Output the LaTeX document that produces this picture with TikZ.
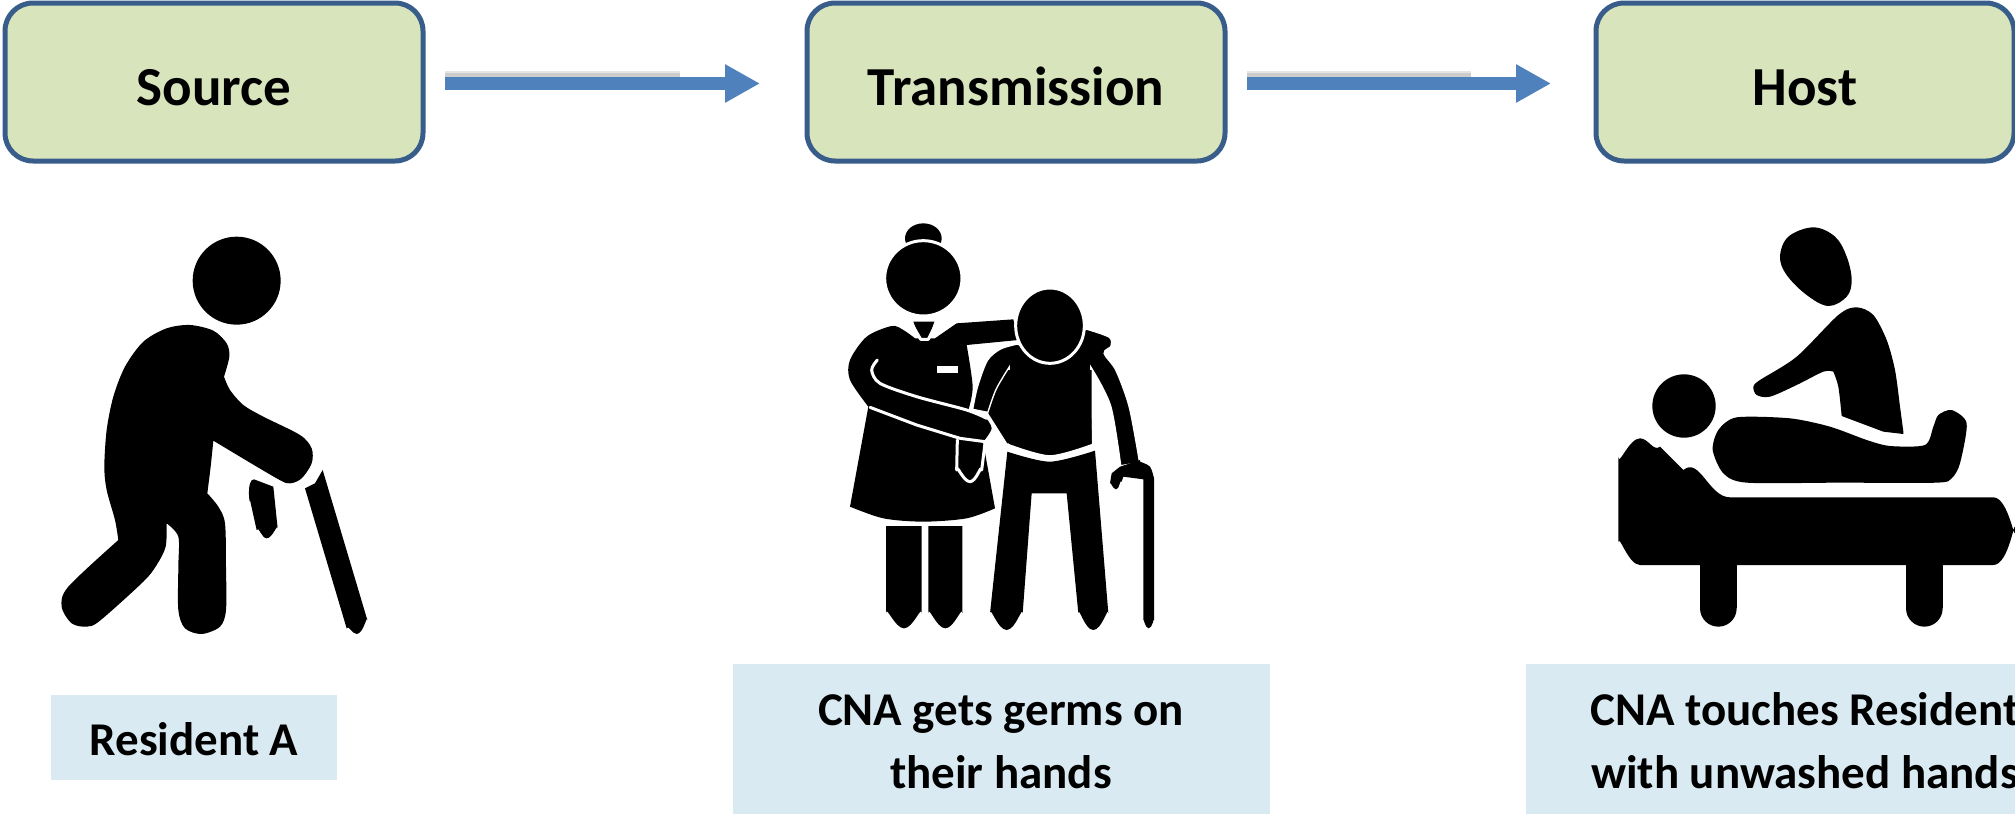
\documentclass[tikz,border=0pt]{standalone}
\usepackage{fontspec}
\setmainfont{Carlito}
\usetikzlibrary{arrows.meta}
\definecolor{boxgreen}{HTML}{D8E4BC}
\definecolor{boxline}{HTML}{385D8A}
\definecolor{arrowblue}{HTML}{4F81BD}
\definecolor{noteblue}{HTML}{DAEAF2}
\tikzset{
  stagebox/.style={draw=boxline,line width=5pt,fill=boxgreen,rounded corners=28pt,outer sep=0pt,inner sep=0pt,
    minimum width=#1,minimum height=158pt,font=\fontsize{55pt}{60pt}\selectfont\bfseries,text height=46pt,text depth=0pt},
  notebox/.style={fill=noteblue,outer sep=0pt,inner sep=0pt,anchor=north west,align=center},
  notetext/.style={inner sep=0pt,font=\fontsize{47pt}{63pt}\selectfont\bfseries,anchor=base},
  flow/.style={draw=arrowblue,line width=13pt,-{Triangle[length=35pt,width=36pt,fill=arrowblue]},shorten <=22pt,shorten >=47pt},
  flowshade/.style={draw=black,draw opacity=.10,line width=13pt,shorten <=22pt,shorten >=80pt},
  ink/.style={fill=black,draw=none},
  gap/.style={draw=white,line width=3pt,line cap=round,line join=round},
  limb/.style={draw=black,line width=#1,line cap=round},
}
\begin{document}
\begin{tikzpicture}[x=1pt,y=-1pt]
\useasboundingbox (0,0) rectangle (2015,814);
\clip (0,0) rectangle (2015,814);
\fill[white] (0,0) rectangle (2015,814);
% stage boxes
\node[stagebox=418pt] (src) at (214,82) {Source};
\node[stagebox=418pt] (trm) at (1016,82) {Transmission};
\node[stagebox=418pt] (hst) at (1805,82) {Host};
% arrows
\draw[flowshade] ([yshift=5pt]src.east) -- ([yshift=5pt,xshift=-47pt]trm.west);
\draw[flowshade] ([yshift=3pt]src.east) -- ([yshift=3pt,xshift=-47pt]trm.west);
\draw[flowshade] ([yshift=5pt]trm.east) -- ([yshift=5pt,xshift=-45pt]hst.west);
\draw[flowshade] ([yshift=3pt]trm.east) -- ([yshift=3pt,xshift=-45pt]hst.west);
\draw[flow] ([yshift=-1.5pt]src.east) -- ([yshift=-1.5pt]trm.west);
\draw[flow,shorten >=45pt] ([yshift=-1.5pt]trm.east) -- ([yshift=-1.5pt]hst.west);
% note boxes
\node[notebox,minimum width=286pt,minimum height=85pt] (n1) at (51,695) {};
\node[notebox,minimum width=537pt,minimum height=150pt] (n2) at (733,664) {};
\node[notebox,minimum width=600pt,minimum height=150pt] (n3) at (1526,664) {};
\node[notetext] (t1) at (194,755) {Resident A};
\node[notetext] (t2a) at (1001,725) {CNA gets germs on};
\node[notetext] (t2b) at (1001,788) {their hands};
\node[notetext] (t3a) at (1805,725) {CNA touches Resident};
\node[notetext] (t3b) at (1805,788) {with unwashed hands};
% old man
\begin{scope}[shift={(0,200)},scale=1/3]
\fill[ink] (710,242) circle (132);
\fill[ink] plot[smooth,tension=.5] coordinates {(672,530)(690,570)(730,615)(790,650)(900,705)(935,745)(935,790)(905,835)(870,850)(830,835)(640,722)}
 -- plot[smooth,tension=.5] coordinates {(640,722)(632,800)(622,880)}
 -- plot[smooth,tension=.5] coordinates {(622,880)(655,920)(675,970)(678,1100)(678,1230)(660,1280)(605,1302)(555,1285)(535,1230)(535,1100)(535,1010)(500,970)}
 -- plot[smooth,tension=.5] coordinates {(500,970)(497,1040)(470,1095)(430,1145)(300,1262)(260,1280)(215,1270)(185,1220)(205,1160)(355,1020)}
 -- plot[smooth,tension=.5] coordinates {(355,1020)(345,960)(320,870)(313,800)(320,690)(340,590)(375,500)(430,425)(500,385)(570,375)(640,392)(680,430)(688,470)(672,530)} -- cycle;
\fill[ink] (762,838) -- (820,860) -- (833,985) to[out=90,in=0] (800,1015) to[out=180,in=70] (770,990) -- (750,900) to[out=-90,in=180] cycle;
\fill[ink] (968,810) -- (1102,1260) to[out=90,in=0] (1070,1302) to[out=180,in=75] (1040,1285) -- (915,865) -- (945,850) -- cycle;
\end{scope}
% nurse and man
\begin{scope}[shift={(800,200)},scale=1/3]
\fill[ink] (370,115) ellipse (55 and 45);
\filldraw[ink,draw=white,line width=3pt] (370,235) ellipse (116 and 113);
\fill[ink] plot[smooth,tension=.5] coordinates {(345,415)(310,390)(275,378)(200,410)(150,480)(150,540)(205,620)}
 -- (150,920) -- plot[smooth,tension=.5] coordinates {(150,920)(250,955)(370,965)(500,955)(585,925)}
 -- (550,730) -- plot[smooth,tension=.5] coordinates {(550,725)(575,685)(555,650)} -- (505,630) -- plot[smooth,tension=.5] coordinates {(505,630)(518,560)(500,435)}
 -- (655,420) -- (640,358) -- (470,370) -- (405,415) -- cycle;
\fill[ink] (340,365) -- (403,365) -- (385,418) -- (360,418) -- cycle;
\draw[gap] plot[smooth,tension=.5] coordinates {(232,480)(215,510)(240,550)(350,590)(500,630)(560,655)};
\draw[gap] (210,622) -- (350,675) -- (480,715) -- (555,725);
\draw[gap] (472,720) -- (470,810) to[out=90,in=180] (510,845) to[out=0,in=95] (545,810) -- (555,730);
\fill[white] (412,497) rectangle (475,520);
\draw[gap] (333,368) -- (362,418) -- (385,418) -- (410,368);
% man
\filldraw[ink,draw=white,line width=3pt] plot[smooth,tension=.5] coordinates {(625,510)(590,570)(565,640)} -- (515,630) -- plot[smooth,tension=.5] coordinates {(515,630)(530,560)(560,480)(600,445)(650,430)}
 -- (700,440) -- (860,385) -- plot[smooth,tension=.5] coordinates {(860,385)(930,410)(935,440)(915,460)(950,510)(990,620)(1020,780)} -- (1020,790) -- (960,800) -- plot[smooth,tension=.5] coordinates {(960,800)(930,620)(875,510)}
 -- (880,735) -- plot[smooth,tension=.5] coordinates {(880,735)(750,770)(622,735)} -- cycle;
\fill[ink] plot[smooth,tension=.5] coordinates {(625,510)(590,570)(565,640)} -- (622,730) -- (875,730) -- (875,510) -- cycle;
\filldraw[ink,draw=white,line width=3pt] (750,377) ellipse (103 and 113);
\fill[ink] plot[smooth,tension=.5] coordinates {(622,755)(750,785)(885,752)}
 -- (925,1240) to[out=90,in=0] (880,1290) to[out=180,in=90] (835,1240) -- (800,880) -- (695,880) -- (668,1240) to[out=90,in=0] (620,1290) to[out=180,in=90] (570,1240) -- cycle;
\fill[ink] (1020,780) -- plot[smooth,tension=.5] coordinates {(1020,785)(1050,800)(1062,835)} -- (1062,1260) to[out=90,in=0] (1046,1285) to[out=180,in=90] (1030,1260) -- (1030,838) -- (970,830) to[out=-90,in=60] (965,845) to[out=120,in=0] (948,868) to[out=180,in=90] (930,850) -- (935,820) -- (960,800) -- cycle;
% nurse legs
\fill[ink] (258,978) -- (365,978) -- (365,1240) to[out=90,in=0] (312,1285) to[out=180,in=90] (258,1240) -- cycle;
\fill[ink] (385,978) -- (487,978) -- (487,1240) to[out=90,in=0] (436,1285) to[out=180,in=90] (385,1240) -- cycle;
\end{scope}
% therapist scene
\begin{scope}[shift={(1590,200)},scale=1/3]
\fill[ink] plot[smooth cycle,tension=.6] coordinates {(670,82)(735,110)(770,170)(785,240)(770,290)(715,318)(650,285)(590,225)(570,170)(595,110)};
\fill[ink] plot[smooth,tension=.5] coordinates {(755,648)(745,560)(730,515)} -- plot[smooth,tension=.5] coordinates {(730,515)(700,515)(620,555)(540,590)(500,585)(490,560)(510,540)(620,470)(745,345)(800,322)(850,345)(890,420)(915,510)(930,620)(940,695)} -- (940,702) -- (880,695) -- cycle;
\fill[ink] (282,618) circle (95);
\fill[ink] plot[smooth cycle,tension=.45] coordinates {(440,652)(600,655)(720,680)(830,720)(900,738)(1005,735)(1030,680)(1045,645)(1085,630)(1130,670)(1110,790)(1085,835)(1040,848)(750,848)(470,848)(400,820)(368,750)(385,690)};
\fill[ink] (85,770) to[out=-90,in=180] (150,715) to[out=0,in=-140] (210,740) -- (280,810) to[out=40,in=180] (420,892) -- (1210,892) to[out=0,in=-90] (1275,990) to[out=90,in=0] (1210,1095) -- (150,1095) to[out=180,in=90] (85,1030) -- cycle;
\draw[limb=37pt,line cap=butt] (385,1090) -- (385,1225);
\fill[ink] (385,1225) circle (55);
\draw[limb=37pt,line cap=butt] (1003,1090) -- (1003,1225);
\fill[ink] (1003,1225) circle (55);
\end{scope}
\end{tikzpicture}
\end{document}
